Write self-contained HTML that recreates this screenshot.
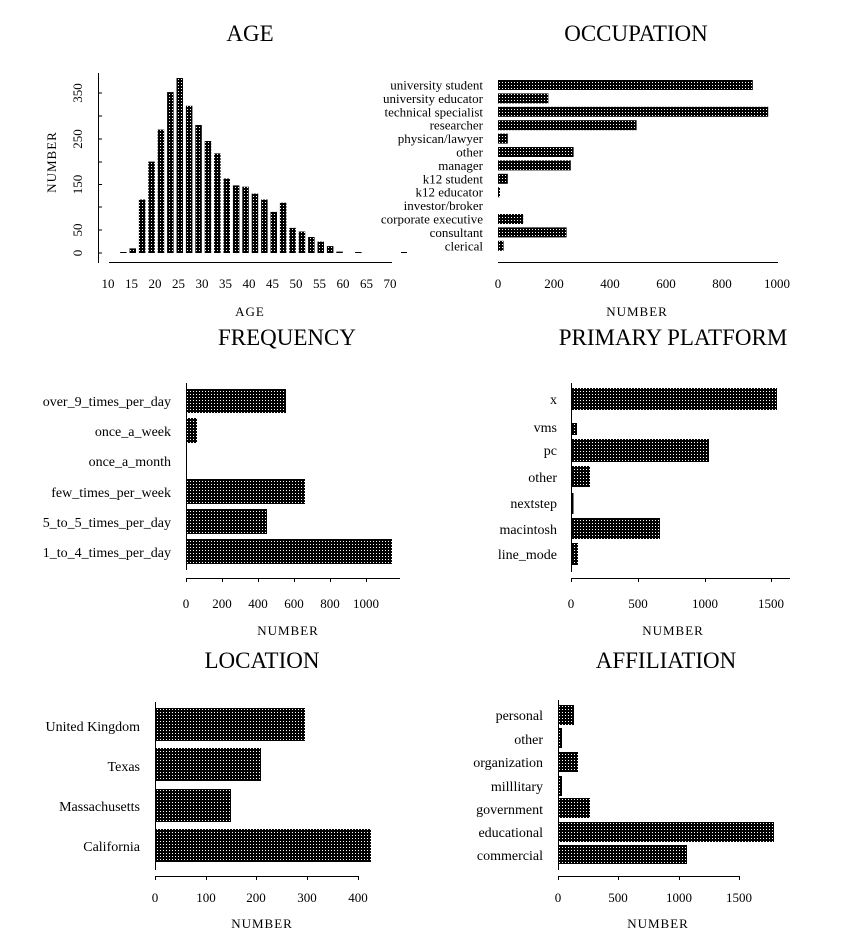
<!DOCTYPE html>
<html><head><meta charset="utf-8"><style>
html,body{margin:0;padding:0;background:#fff;}
svg{display:block;}
text{font-family:"Liberation Serif",serif;fill:#000;}
.t{font-size:23px;text-anchor:middle;}
.l{font-size:13px;text-anchor:end;}
.k{font-size:13px;text-anchor:middle;}
.n{font-size:13px;text-anchor:middle;letter-spacing:1px;}
</style></head><body>
<svg width="851" height="933" viewBox="0 0 851 933" xmlns="http://www.w3.org/2000/svg">
<defs><pattern id="p" width="3" height="3" patternUnits="userSpaceOnUse"><rect width="3" height="3" fill="#000"/><rect x="1" y="1" width="1" height="1" fill="#fff"/></pattern></defs>
<g stroke="#000" stroke-width="1" fill="none">
<!-- AGE axes -->
<line x1="98.5" y1="73" x2="98.5" y2="263"/>
<line x1="109" y1="262.5" x2="392" y2="262.5"/>
<!-- OCC -->
<line x1="498" y1="262.5" x2="778" y2="262.5"/>
<!-- FREQ -->
<line x1="186.5" y1="383" x2="186.5" y2="570"/>
<line x1="186" y1="578.5" x2="400" y2="578.5"/>
<!-- PLAT -->
<line x1="571.5" y1="383" x2="571.5" y2="572"/>
<line x1="571" y1="578.5" x2="790" y2="578.5"/>
<!-- LOC -->
<line x1="155.5" y1="702" x2="155.5" y2="870"/>
<line x1="155" y1="876.5" x2="359" y2="876.5"/>
<!-- AFF -->
<line x1="558.5" y1="700" x2="558.5" y2="870"/>
<line x1="558" y1="876.5" x2="740" y2="876.5"/>
</g>
<g stroke="#000" stroke-width="1">
<line x1="98" y1="253" x2="102" y2="253"/><line x1="98" y1="230" x2="102" y2="230"/><line x1="98" y1="207" x2="102" y2="207"/><line x1="98" y1="184.5" x2="102" y2="184.5"/><line x1="98" y1="162" x2="102" y2="162"/><line x1="98" y1="139" x2="102" y2="139"/><line x1="98" y1="116" x2="102" y2="116"/><line x1="98" y1="93" x2="102" y2="93"/>
<line x1="186.5" y1="578" x2="186.5" y2="582"/><line x1="222.5" y1="578" x2="222.5" y2="582"/><line x1="258.5" y1="578" x2="258.5" y2="582"/><line x1="294.5" y1="578" x2="294.5" y2="582"/><line x1="330.5" y1="578" x2="330.5" y2="582"/><line x1="366.5" y1="578" x2="366.5" y2="582"/>
<line x1="571.5" y1="578" x2="571.5" y2="582"/><line x1="638.5" y1="578" x2="638.5" y2="582"/><line x1="705.5" y1="578" x2="705.5" y2="582"/><line x1="771.5" y1="578" x2="771.5" y2="582"/>
<line x1="155.5" y1="876" x2="155.5" y2="880"/><line x1="206.5" y1="876" x2="206.5" y2="880"/><line x1="256.5" y1="876" x2="256.5" y2="880"/><line x1="307.5" y1="876" x2="307.5" y2="880"/><line x1="358.5" y1="876" x2="358.5" y2="880"/>
<line x1="558.5" y1="876" x2="558.5" y2="880"/><line x1="618.5" y1="876" x2="618.5" y2="880"/><line x1="679.5" y1="876" x2="679.5" y2="880"/><line x1="739.5" y1="876" x2="739.5" y2="880"/>
</g>
<g fill="url(#p)">
<!-- AGE bars -->
<rect x="120.1" y="252" width="6.5" height="1"/>
<rect x="129.5" y="248.4" width="6.5" height="4.6"/>
<rect x="138.9" y="199.5" width="6.5" height="53.5"/>
<rect x="148.3" y="161.6" width="6.5" height="91.4"/>
<rect x="157.7" y="129.6" width="6.5" height="123.4"/>
<rect x="167.1" y="92.1" width="6.5" height="160.9"/>
<rect x="176.5" y="78" width="6.5" height="175"/>
<rect x="185.9" y="105.8" width="6.5" height="147.2"/>
<rect x="195.3" y="125" width="6.5" height="128"/>
<rect x="204.7" y="141" width="6.5" height="112"/>
<rect x="214.1" y="153.4" width="6.5" height="99.6"/>
<rect x="223.5" y="178.5" width="6.5" height="74.5"/>
<rect x="232.9" y="185.4" width="6.5" height="67.6"/>
<rect x="242.3" y="186.7" width="6.5" height="66.3"/>
<rect x="251.7" y="193.6" width="6.5" height="59.4"/>
<rect x="261.1" y="199.5" width="6.5" height="53.5"/>
<rect x="270.5" y="211.9" width="6.5" height="41.1"/>
<rect x="279.9" y="202.7" width="6.5" height="50.3"/>
<rect x="289.3" y="227.9" width="6.5" height="25.1"/>
<rect x="298.7" y="231.5" width="6.5" height="21.5"/>
<rect x="308.1" y="237" width="6.5" height="16"/>
<rect x="317.5" y="241.6" width="6.5" height="11.4"/>
<rect x="326.9" y="246.1" width="6.5" height="6.9"/>
<rect x="336.3" y="251.6" width="6.5" height="1.4"/>
<rect x="355.1" y="252" width="6.5" height="1"/>
<rect x="401" y="252" width="6" height="1"/>
<!-- OCC bars -->
<rect x="498" y="80" width="254.8" height="10"/>
<rect x="498" y="93.4" width="50.4" height="10"/>
<rect x="498" y="106.8" width="270.2" height="10"/>
<rect x="498" y="120.2" width="138.6" height="10"/>
<rect x="498" y="133.6" width="9.8" height="10"/>
<rect x="498" y="147" width="75.6" height="10"/>
<rect x="498" y="160.4" width="72.8" height="10"/>
<rect x="498" y="173.8" width="9.8" height="10"/>
<rect x="498" y="187.2" width="2" height="10"/>
<rect x="498" y="214" width="25.2" height="10"/>
<rect x="498" y="227.4" width="68.6" height="10"/>
<rect x="498" y="240.8" width="5.6" height="10"/>
<!-- FREQ -->
<rect x="187" y="389" width="99" height="24"/>
<rect x="187" y="418" width="10" height="25"/>
<rect x="187" y="479" width="118" height="25"/>
<rect x="187" y="509" width="80" height="25"/>
<rect x="187" y="539" width="205" height="25"/>
<!-- PLAT -->
<rect x="572" y="388" width="205" height="22"/>
<rect x="572" y="423" width="5" height="12"/>
<rect x="572" y="439" width="137" height="23"/>
<rect x="572" y="466" width="18" height="21"/>
<rect x="572" y="493" width="1.5" height="21"/>
<rect x="572" y="518" width="88" height="21"/>
<rect x="572" y="543" width="6" height="22"/>
<!-- LOC -->
<rect x="156" y="708" width="149" height="33"/>
<rect x="156" y="748" width="105" height="33"/>
<rect x="156" y="789" width="75" height="33"/>
<rect x="156" y="829" width="215" height="33"/>
<!-- AFF -->
<rect x="559" y="705" width="15" height="20"/>
<rect x="559" y="728" width="3" height="20"/>
<rect x="559" y="752" width="19" height="20"/>
<rect x="559" y="776" width="3" height="20"/>
<rect x="559" y="798" width="31" height="20"/>
<rect x="559" y="822" width="215" height="20"/>
<rect x="559" y="845" width="128" height="19"/>
</g>
<!-- Titles -->
<text class="t" x="250" y="41">AGE</text>
<text class="t" x="636" y="41">OCCUPATION</text>
<text class="t" x="287" y="345">FREQUENCY</text>
<text class="t" x="673" y="345">PRIMARY PLATFORM</text>
<text class="t" x="262" y="668">LOCATION</text>
<text class="t" x="666" y="668">AFFILIATION</text>
<!-- AGE labels -->
<g class="k">
<text transform="translate(82,253) rotate(-90)">0</text>
<text transform="translate(82,230) rotate(-90)">50</text>
<text transform="translate(82,184.5) rotate(-90)">150</text>
<text transform="translate(82,139) rotate(-90)">250</text>
<text transform="translate(82,93) rotate(-90)">350</text>
<text class="n" transform="translate(56,162) rotate(-90)">NUMBER</text>
<text x="108" y="288">10</text><text x="131.5" y="288">15</text><text x="155" y="288">20</text><text x="178.5" y="288">25</text><text x="202" y="288">30</text><text x="225.5" y="288">35</text><text x="249" y="288">40</text><text x="272.5" y="288">45</text><text x="296" y="288">50</text><text x="319.5" y="288">55</text><text x="343" y="288">60</text><text x="366.5" y="288">65</text><text x="390" y="288">70</text>
<text class="n" x="250" y="316">AGE</text>
<!-- OCC -->
<text x="498" y="288">0</text><text x="554" y="288">200</text><text x="610" y="288">400</text><text x="666" y="288">600</text><text x="722" y="288">800</text><text x="777" y="288">1000</text>
<text class="n" x="637" y="316">NUMBER</text>
<!-- FREQ -->
<text x="186" y="608">0</text><text x="222" y="608">200</text><text x="258" y="608">400</text><text x="294" y="608">600</text><text x="330" y="608">800</text><text x="366" y="608">1000</text>
<text class="n" x="288" y="635">NUMBER</text>
<!-- PLAT -->
<text x="571" y="608">0</text><text x="638" y="608">500</text><text x="705" y="608">1000</text><text x="771" y="608">1500</text>
<text class="n" x="673" y="635">NUMBER</text>
<!-- LOC -->
<text x="155" y="902">0</text><text x="206" y="902">100</text><text x="256" y="902">200</text><text x="307" y="902">300</text><text x="358" y="902">400</text>
<text class="n" x="262" y="928">NUMBER</text>
<!-- AFF -->
<text x="558" y="902">0</text><text x="618" y="902">500</text><text x="679" y="902">1000</text><text x="739" y="902">1500</text>
<text class="n" x="658" y="928">NUMBER</text>
</g>
<g class="l">
<text x="483" y="89.5">university student</text>
<text x="483" y="102.9">university educator</text>
<text x="483" y="116.3">technical specialist</text>
<text x="483" y="129.7">researcher</text>
<text x="483" y="143.1">physican/lawyer</text>
<text x="483" y="156.5">other</text>
<text x="483" y="169.9">manager</text>
<text x="483" y="183.3">k12 student</text>
<text x="483" y="196.7">k12 educator</text>
<text x="483" y="210.1">investor/broker</text>
<text x="483" y="223.5">corporate executive</text>
<text x="483" y="236.9">consultant</text>
<text x="483" y="250.3">clerical</text>
</g>
<g class="l" style="font-size:14px">
<text x="171" y="406">over_9_times_per_day</text>
<text x="171" y="436">once_a_week</text>
<text x="171" y="466">once_a_month</text>
<text x="171" y="497">few_times_per_week</text>
<text x="171" y="527">5_to_5_times_per_day</text>
<text x="171" y="557">1_to_4_times_per_day</text>
<text x="557" y="404">x</text>
<text x="557" y="432">vms</text>
<text x="557" y="455">pc</text>
<text x="557" y="482">other</text>
<text x="557" y="508">nextstep</text>
<text x="557" y="534">macintosh</text>
<text x="557" y="559">line_mode</text>
<text x="140" y="731">United Kingdom</text>
<text x="140" y="771">Texas</text>
<text x="140" y="811">Massachusetts</text>
<text x="140" y="851">California</text>
<text x="543" y="720">personal</text>
<text x="543" y="744">other</text>
<text x="543" y="767">organization</text>
<text x="543" y="791">milllitary</text>
<text x="543" y="814">government</text>
<text x="543" y="837">educational</text>
<text x="543" y="860">commercial</text>
</g>
</svg>
</body></html>
